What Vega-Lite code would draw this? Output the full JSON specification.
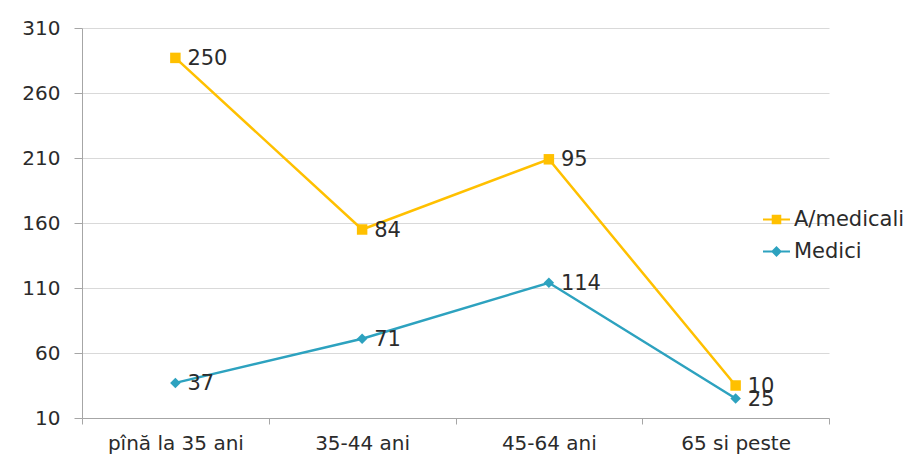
{
  "$schema": "https://vega.github.io/schema/vega-lite/v6.json",
  "width": 747,
  "height": 390,
  "autosize": "none",
  "padding": {"left": 82, "top": 28, "right": 76, "bottom": 37},
  "background": "white",
  "config": {"font": "DejaVu Sans", "view": {"stroke": null}},
  "data": {
    "values": [
      {"cat": "pînă la 35 ani", "series": "Medici", "value": 37},
      {"cat": "35-44 ani", "series": "Medici", "value": 71},
      {"cat": "45-64 ani", "series": "Medici", "value": 114},
      {"cat": "65 si peste", "series": "Medici", "value": 25},
      {"cat": "pînă la 35 ani", "series": "A/medicali", "value": 250},
      {"cat": "35-44 ani", "series": "A/medicali", "value": 84},
      {"cat": "45-64 ani", "series": "A/medicali", "value": 95},
      {"cat": "65 si peste", "series": "A/medicali", "value": 10}
    ]
  },
  "transform": [
    {"stack": "value", "groupby": ["cat"], "sort": [{"field": "series", "order": "descending"}], "as": ["y0", "y1"]}
  ],
  "encoding": {
    "x": {
      "field": "cat", "type": "nominal",
      "sort": ["pînă la 35 ani", "35-44 ani", "45-64 ani", "65 si peste"],
      "scale": {"paddingInner": 0, "paddingOuter": 0},
      "axis": {"title": null, "tickBand": "extent", "labelAngle": 0, "labelFontSize": 20, "labelColor": "#2b2b2b", "domainColor": "#a6a6a6", "tickColor": "#a6a6a6", "tickSize": 6, "labelPadding": 9, "grid": false}
    },
    "y": {
      "field": "y1", "type": "quantitative",
      "scale": {"domain": [10, 310], "nice": false, "zero": false},
      "axis": {"title": null, "values": [10, 60, 110, 160, 210, 260, 310], "grid": true, "gridColor": "#d9d9d9", "domainColor": "#a6a6a6", "tickColor": "#a6a6a6", "tickSize": 8, "labelFontSize": 20, "labelColor": "#2b2b2b", "labelPadding": 14}
    },
    "color": {
      "field": "series", "type": "nominal",
      "scale": {"domain": ["A/medicali", "Medici"], "range": ["#FFC000", "#2DA2BF"]},
      "legend": {
        "orient": "none", "legendX": 680, "legendY": 177, "title": null, "padding": 0,
        "labelFontSize": 21, "labelColor": "#2b2b2b", "symbolSize": 729, "symbolStrokeWidth": 2,
        "rowPadding": 7, "labelOffset": 3,
        "encode": {
          "symbols": {
            "update": {
              "shape": {"signal": "datum.value === 'Medici' ? 'M-1,0H1M0,-0.3L0.3,0L0,0.3L-0.3,0Z' : 'M-1,0H1M-0.28,-0.28H0.28V0.28H-0.28Z'"},
              "fill": {"signal": "scale('color', datum.value)"},
              "stroke": {"signal": "scale('color', datum.value)"},
              "opacity": {"value": 1},
              "fillOpacity": {"value": 1}
            }
          }
        }
      }
    }
  },
  "layer": [
    {"mark": {"type": "line", "strokeWidth": 2.5}},
    {
      "transform": [{"filter": "datum.series === 'A/medicali'"}],
      "mark": {"type": "point", "filled": true, "opacity": 1, "size": 110, "shape": "square"}
    },
    {
      "transform": [{"filter": "datum.series === 'Medici'"}],
      "mark": {"type": "point", "filled": true, "opacity": 1, "size": 110, "shape": "diamond"}
    },
    {
      "mark": {"type": "text", "align": "left", "baseline": "middle", "dx": 12, "dy": 1, "fontSize": 21},
      "encoding": {"text": {"field": "value"}, "color": {"value": "#2b2b2b"}}
    }
  ]
}
